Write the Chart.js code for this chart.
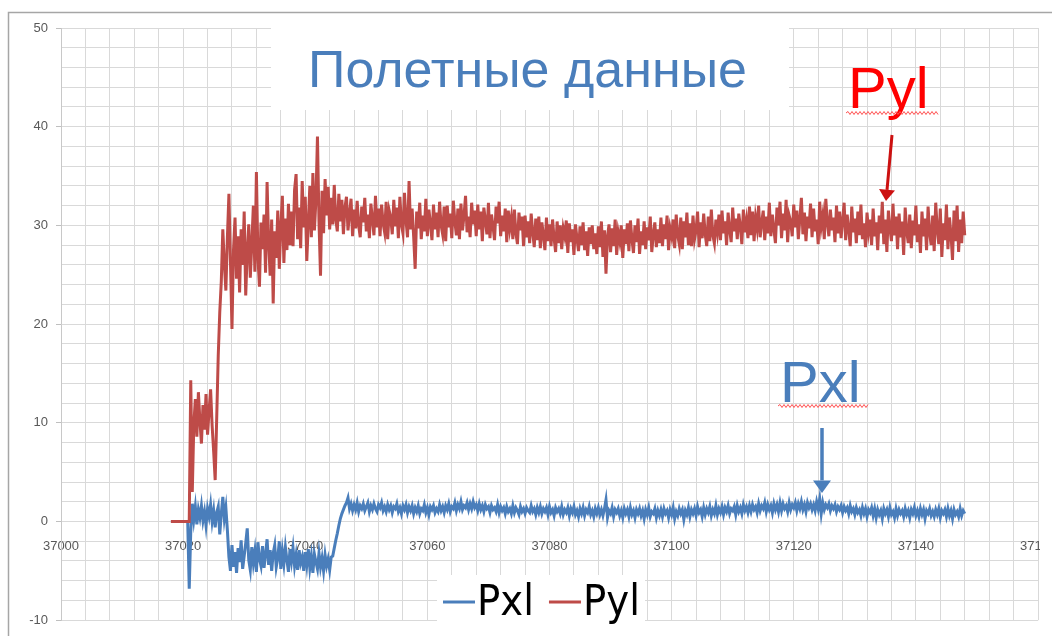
<!DOCTYPE html>
<html>
<head>
<meta charset="utf-8">
<script src="https://cdn.jsdelivr.net/npm/chart.js@4.4.0/dist/chart.umd.min.js"></script>
<style>
  html, body { margin: 0; padding: 0; background: #ffffff; }
</style>
</head>
<body>
<canvas id="grafico" width="1052" height="636"></canvas>
<script>
// ДАННЫЕ: отсчёты через каждые 0.25 ед. времени, начиная с 37018 (20 отсчётов в строке = 5 ед.)
const startTime = 37018;
const timeStep = 0.25;

const seriesNames = ['Pxl', 'Pyl'];
const seriesColors = ['#4a7ebb', '#be4b48'];

const xTicks = [37000, 37020, 37040, 37060, 37080, 37100, 37120, 37140, 37160];
const yTicks = [-10, 0, 10, 20, 30, 40, 50];

const pxlValues = [
  0, 0, 0, 0, 0, 0, 0, 0, 0, 0, 0, 0, -6.8, -1.0, 1.8, 0.2, 1.5, -0.3, 1.2, 0.4,
  1.6, 0.1, 1.0, -0.4, 1.3, 0.5, 1.7, 0.0, 1.1, -0.6, 0.9, 1.5, -1.3, 0.8, 2.5, 0.3, 1.4, -0.9, -3.6, -5.0,
  -2.4, -4.6, -3.1, -5.2, -2.7, -4.1, -1.9, -4.8, -3.5, -2.2, -0.7, -3.9, -4.9, -2.6, -4.2, -3.0, -5.1, -2.1, -3.8, -4.5,
  -2.5, -4.7, -3.3, -1.8, -4.4, -2.9, -5.0, -3.2, -2.4, -4.6, -3.7, -2.0, -4.8, -3.0, -4.3, -2.6, -3.9, -5.1, -2.8, -4.0,
  -2.7, -4.5, -3.4, -4.9, -2.9, -4.2, -3.6, -5.0, -3.1, -4.4, -2.8, -4.7, -3.5, -5.2, -3.3, -4.1, -4.8, -3.2, -4.6, -3.7,
  -5.0, -3.4, -4.5, -3.8, -4.9, -3.6, -3.5, -2.7, -1.9, -1.2, -0.4, 0.3, 0.8, 1.2, 1.6, 1.9, 2.4, 1.3, 1.8, 1.1,
  1.7, 1.2, 1.9, 1.0, 1.6, 1.3, 1.8, 1.1, 1.5, 1.9, 1.0, 1.6, 1.2, 1.8, 1.3, 1.0, 1.7, 1.4, 1.9, 1.1,
  1.5, 1.0, 1.7, 1.2, 1.6, 0.9, 1.5, 1.3, 1.8, 1.0, 1.4, 0.8, 1.6, 1.2, 1.7, 0.9, 1.5, 1.1, 1.6, 0.8,
  1.4, 1.0, 1.6, 0.8, 1.3, 1.1, 1.7, 0.9, 1.4, 0.7, 1.5, 1.2, 1.6, 0.9, 1.3, 1.0, 1.7, 1.1, 1.5, 0.9,
  1.6, 1.2, 1.8, 1.0, 1.5, 1.3, 1.9, 1.1, 1.7, 1.3, 2.0, 1.2, 1.6, 1.4, 1.9, 1.2, 1.8, 1.3, 2.0, 1.4,
  1.7, 1.1, 1.8, 1.2, 1.6, 1.0, 1.7, 1.3, 1.5, 0.9, 1.6, 1.2, 1.4, 1.0, 1.7, 0.9, 1.5, 1.1, 1.4, 0.8,
  1.5, 1.0, 1.3, 0.8, 1.6, 0.9, 1.4, 1.1, 0.7, 1.5, 1.0, 1.3, 0.8, 1.4, 1.1, 0.9, 1.6, 1.0, 1.3, 0.7,
  1.4, 0.9, 1.5, 0.8, 1.3, 1.0, 1.4, 0.7, 1.5, 0.9, 1.2, 0.6, 1.4, 1.0, 1.3, 0.8, 1.5, 0.7, 1.2, 0.9,
  1.4, 0.6, 1.3, 0.9, 1.5, 0.7, 1.1, 0.5, 1.3, 0.8, 1.4, 0.6, 1.2, 0.9, 1.5, 0.7, 1.1, 0.5, 1.3, 0.8,
  1.4, 0.7, 1.2, 0.6, 1.3, 2.2, 0.4, 1.1, 0.8, 1.4, 0.5, 1.2, 0.9, 1.3, 0.6, 1.1, 0.4, 1.3, 0.8, 1.2,
  0.5, 1.4, 0.7, 1.1, 0.4, 1.2, 0.8, 1.3, 0.6, 1.1, 0.3, 1.2, 0.7, 1.4, 0.5, 1.0, 0.8, 1.3, 0.4, 1.1,
  0.6, 1.2, 0.5, 1.3, 0.8, 1.1, 0.4, 1.2, 0.7, 1.4, 0.3, 1.0, 0.6, 1.3, 0.8, 1.2, 0.2, 1.1, 0.7, 1.4,
  0.5, 1.2, 0.8, 1.3, 0.6, 1.5, 0.9, 1.2, 0.5, 1.4, 0.7, 1.3, 0.9, 1.5, 0.6, 1.2, 0.8, 1.6, 0.7, 1.3,
  0.9, 1.5, 0.7, 1.4, 1.0, 1.6, 0.8, 1.3, 1.1, 1.5, 0.7, 1.6, 1.0, 1.4, 0.8, 1.7, 1.1, 1.5, 0.9, 1.6,
  1.0, 1.7, 1.2, 1.5, 0.9, 1.8, 1.1, 1.6, 1.3, 1.9, 1.0, 1.7, 1.2, 1.6, 0.9, 1.8, 1.2, 1.7, 1.0, 1.9,
  1.1, 1.8, 1.3, 1.6, 1.0, 1.9, 1.2, 1.7, 1.4, 1.9, 1.1, 1.8, 1.3, 2.0, 1.2, 1.7, 1.0, 1.9, 1.4, 1.8,
  1.2, 1.7, 1.1, 2.0, 1.3, 2.3, 0.8, 1.9, 1.2, 1.7, 1.4, 1.8, 1.1, 1.6, 1.3, 1.7, 1.0, 1.5, 1.2, 1.6,
  0.9, 1.5, 1.1, 1.4, 0.8, 1.6, 1.0, 1.3, 0.7, 1.4, 0.9, 1.2, 0.6, 1.4, 0.8, 1.3, 0.5, 1.2, 0.9, 1.4,
  0.6, 1.3, 0.4, 1.2, 0.7, 1.1, 0.3, 1.3, 0.8, 1.2, 0.5, 1.4, 0.7, 1.0, 0.4, 1.3, 0.6, 1.2, 0.8, 1.1,
  0.5, 1.3, 0.7, 1.1, 0.4, 1.2, 0.8, 1.4, 0.6, 1.1, 0.5, 1.3, 0.7, 1.2, 0.3, 1.1, 0.8, 1.3, 0.6, 1.0,
  0.5, 1.2, 0.7, 1.3, 0.4, 1.1, 0.8, 1.2, 0.5, 1.3, 0.6, 1.1, 0.3, 1.2, 0.7, 1.0, 0.5, 1.3, 0.6, 1.1,
  0.8
];

const pylValues = [
  0, 0, 0, 0, 0, 0, 0, 0, 0, 0, 0, 0, 0, 14.3, 3.0, 9.8, 12.4, 8.6, 13.1, 10.2,
  7.9, 11.8, 9.3, 12.9, 8.8, 11.2, 13.4, 9.7, 7.1, 4.2, 10.5, 16.8, 21.2, 24.3, 29.6, 26.1, 23.4, 28.8, 33.2, 26.4,
  19.5, 27.5, 30.8, 24.6, 28.9, 23.2, 29.6, 26.0, 31.4, 22.9, 27.3, 30.1, 24.7, 28.2, 32.0, 25.3, 35.4, 26.8, 23.8, 30.3,
  27.6, 31.1, 25.2, 34.4, 28.3, 24.9, 30.6, 22.1, 29.4, 26.7, 31.5, 25.6, 29.9, 33.0, 26.2, 30.7, 27.5, 32.2, 28.0, 31.4,
  27.9, 33.6, 35.2, 28.6, 31.8, 27.7, 34.5, 29.8, 32.9, 26.4, 30.2, 34.0, 28.8, 35.3, 29.5, 32.6, 39.0, 30.4, 24.9, 33.5,
  29.2, 34.7, 31.0, 33.9, 29.6, 32.8, 30.1, 34.1, 30.6, 29.4, 33.2, 30.4, 32.6, 29.1, 31.8, 32.9, 29.5, 31.2, 32.7, 28.9,
  31.6, 29.7, 32.5, 30.0, 28.8, 31.9, 30.3, 32.8, 29.4, 31.1, 28.7, 32.2, 30.6, 29.0, 33.0, 29.8, 31.7, 28.9, 32.1, 30.2,
  29.3, 32.4, 28.6, 31.5, 30.8, 29.1, 32.6, 29.9, 31.8, 28.7, 32.9, 30.1, 29.2, 33.3, 30.5, 28.8, 34.5, 29.6, 31.7, 28.9,
  25.6, 31.4, 29.7, 32.3, 28.6, 31.0, 29.4, 32.7, 28.9, 31.6, 30.2, 28.5, 32.1, 29.6, 31.3, 28.8, 32.4, 30.0, 29.1, 31.9,
  28.4, 32.0, 29.8, 31.2, 28.7, 32.5, 30.4, 29.0, 31.7, 28.6, 32.2, 29.5, 31.0, 33.0, 29.3, 30.9, 28.8, 32.3, 30.1, 31.5,
  28.9, 32.1, 29.6, 31.4, 28.4, 31.8, 30.5, 29.1, 32.3, 28.7, 31.1, 29.9, 28.5, 31.9, 30.2, 32.4, 28.9, 31.0, 29.4, 31.7,
  28.3, 31.5, 29.7, 30.8, 28.6, 31.6, 29.2, 28.1, 31.3, 29.5, 30.9, 27.9, 31.0, 28.8, 30.4, 28.2, 31.2, 29.3, 27.8, 30.7,
  28.5, 30.9, 27.7, 30.3, 29.0, 27.5, 30.8, 28.4, 30.1, 27.9, 30.6, 28.7, 27.3, 30.4, 28.2, 30.0, 27.6, 29.7, 28.9, 30.5,
  27.2, 30.2, 28.3, 29.6, 27.0, 30.1, 28.7, 27.4, 29.9, 28.0, 30.3, 27.5, 29.4, 26.9, 29.8, 28.1, 30.0, 27.6, 29.2, 27.1,
  29.9, 27.8, 30.4, 26.8, 29.5, 25.1, 28.9, 30.1, 27.3, 29.7, 27.9, 30.6, 27.0, 29.3, 28.4, 30.0, 26.7, 29.6, 28.1, 30.2,
  27.4, 30.5, 28.6, 27.2, 30.0, 28.3, 30.7, 27.1, 29.4, 28.0, 30.4, 27.6, 29.8, 28.5, 30.9, 27.3, 29.1, 30.3, 27.8, 29.6,
  28.2, 30.8, 27.9, 30.1, 28.6, 31.0, 27.5, 29.7, 28.9, 30.6, 27.7, 31.1, 29.0, 28.1, 30.8, 27.6, 30.4, 28.8, 31.3, 28.0,
  30.2, 27.9, 31.0, 28.6, 29.5, 31.4, 27.8, 30.3, 28.7, 31.2, 29.1, 27.9, 30.9, 28.4, 31.6, 29.0, 28.2, 30.6, 29.3, 31.1,
  28.5, 31.5, 29.2, 30.4, 28.0, 31.3, 29.6, 28.3, 31.8, 29.4, 30.7, 28.6, 31.2, 29.9, 28.1, 31.6, 29.3, 30.5, 28.7, 31.9,
  29.0, 31.4, 28.4, 30.8, 29.7, 32.0, 28.8, 30.3, 31.5, 28.5, 30.9, 29.2, 32.3, 28.9, 31.1, 29.6, 28.2, 31.8, 30.0, 32.4,
  28.7, 31.2, 29.5, 32.6, 28.3, 31.0, 30.4, 28.9, 32.1, 29.8, 31.5, 28.6, 30.7, 32.8, 29.1, 31.3, 28.4, 30.9, 29.7, 32.2,
  28.8, 31.7, 29.4, 30.6, 28.1, 32.4, 29.9, 31.0, 28.6, 32.7, 30.3, 28.9, 31.6, 29.5, 30.8, 28.3, 32.0, 29.2, 31.4, 28.7,
  30.5, 32.3, 28.5, 31.1, 29.6, 27.9, 31.9, 29.3, 30.7, 28.2, 31.4, 29.0, 32.1, 28.6, 30.2, 27.8, 31.3, 29.4, 30.6, 28.0,
  31.7, 28.9, 30.3, 27.5, 31.0, 29.2, 32.4, 28.1, 30.6, 27.3, 31.5, 29.7, 28.4, 32.2, 29.0, 30.9, 27.6, 31.2, 28.8, 30.4,
  27.0, 31.8, 29.4, 28.2, 31.1, 27.7, 30.5, 29.0, 32.0, 28.3, 30.1, 27.2, 31.4, 28.9, 30.7, 27.5, 31.9, 29.3, 28.0, 31.0,
  27.4, 32.3, 29.6, 28.1, 31.7, 26.8, 30.2, 28.5, 32.1, 27.6, 30.8, 29.1, 26.5, 31.5, 28.4, 32.0, 27.3, 30.6, 28.2, 31.4,
  29.0
];

function toPoints(values) {
  return values.map((v, i) => ({ x: startTime + i * timeStep, y: v }));
}

const FONTE_EIXO = { family: '"Liberation Sans", Arial, sans-serif', size: 13 };
const COR_GRADE = '#d9d9d9';

const dados = {
  datasets: [
    {
      label: seriesNames[0],
      data: toPoints(pxlValues),
      borderColor: seriesColors[0],
      backgroundColor: seriesColors[0],
      borderWidth: 3,
      pointRadius: 0,
      tension: 0,
      order: 1
    },
    {
      label: seriesNames[1],
      data: toPoints(pylValues),
      borderColor: seriesColors[1],
      backgroundColor: seriesColors[1],
      borderWidth: 3,
      pointRadius: 0,
      tension: 0,
      order: 0
    }
  ]
};

// wavy spell-check style underline
function wavy(ctx, x0, x1, y) {
  ctx.save();
  ctx.strokeStyle = '#ff5050';
  ctx.lineWidth = 1;
  ctx.beginPath();
  ctx.moveTo(x0, y);
  let up = true;
  for (let x = x0; x < x1; x += 2) {
    ctx.lineTo(x + 2, y + (up ? -1.5 : 1.5));
    up = !up;
  }
  ctx.stroke();
  ctx.restore();
}

function seta(ctx, x0, y0, x1, y1, cor, w, head) {
  const ang = Math.atan2(y1 - y0, x1 - x0);
  const bx = x1 - Math.cos(ang) * head * 1.4;
  const by = y1 - Math.sin(ang) * head * 1.4;
  ctx.save();
  ctx.strokeStyle = cor;
  ctx.fillStyle = cor;
  ctx.lineWidth = w;
  ctx.beginPath();
  ctx.moveTo(x0, y0);
  ctx.lineTo(bx, by);
  ctx.stroke();
  ctx.beginPath();
  ctx.moveTo(x1, y1);
  ctx.lineTo(bx + Math.sin(ang) * head, by - Math.cos(ang) * head);
  ctx.lineTo(bx - Math.sin(ang) * head, by + Math.cos(ang) * head);
  ctx.closePath();
  ctx.fill();
  ctx.restore();
}

const decoracao = {
  id: 'decoracao',
  afterDraw(chart) {
    const ctx = chart.ctx;
    ctx.save();

    // title box
    ctx.fillStyle = '#ffffff';
    ctx.fillRect(271, 14, 518, 96);
    ctx.fillStyle = '#4a7ebb';
    ctx.font = '52px "Liberation Sans", Arial, sans-serif';
    ctx.textAlign = 'left';
    ctx.textBaseline = 'alphabetic';
    ctx.fillText('Полетные данные', 308, 87);

    // legend box
    ctx.fillStyle = '#ffffff';
    ctx.fillRect(437, 575, 208, 52);
    ctx.font = '43px "Liberation Sans Narrow", "DejaVu Sans Condensed", sans-serif';
    let lx = 443;
    chart.data.datasets.forEach((ds) => {
      ctx.strokeStyle = ds.borderColor;
      ctx.lineWidth = 3;
      ctx.beginPath();
      ctx.moveTo(lx, 602);
      ctx.lineTo(lx + 32, 602);
      ctx.stroke();
      ctx.fillStyle = '#000000';
      ctx.fillText(ds.label, lx + 34, 615);
      lx += 34 + ctx.measureText(ds.label).width + 15;
    });

    // annotation Pyl
    ctx.fillStyle = '#ff0000';
    ctx.font = '58px "Liberation Sans", Arial, sans-serif';
    ctx.fillText('Pyl', 848, 108);
    wavy(ctx, 846, 937, 113);
    seta(ctx, 892, 135, 886, 201, '#cc1010', 3, 8);

    // annotation Pxl
    ctx.fillStyle = '#4a7ebb';
    ctx.fillText('Pxl', 780, 402);
    wavy(ctx, 778, 868, 406);
    seta(ctx, 822, 428, 822, 493, '#4a7ebb', 3.5, 9);

    // right edge of the screenshot
    ctx.fillStyle = '#ffffff';
    ctx.fillRect(1040, 14, 12, 622);

    // outer border
    ctx.strokeStyle = '#a6a6a6';
    ctx.lineWidth = 1.5;
    ctx.beginPath();
    ctx.moveTo(8.5, 636);
    ctx.lineTo(8.5, 12.5);
    ctx.lineTo(1052, 12.5);
    ctx.stroke();

    ctx.restore();
  }
};

const config = {
  type: 'line',
  data: dados,
  options: {
    responsive: false,
    animation: false,
    layout: { padding: { left: 0, top: 28, right: 14, bottom: 9 } },
    scales: {
      x: {
        type: 'linear',
        position: { y: 0 },
        min: xTicks[0],
        max: xTicks[xTicks.length - 1],
        afterFit(scale) { scale.paddingLeft = 0; scale.paddingRight = 0; },
        ticks: {
          stepSize: 4,
          autoSkip: false,
          maxRotation: 0,
          padding: 17,
          color: '#595959',
          font: FONTE_EIXO,
          callback: (v) => xTicks.includes(v) ? String(v) : ''
        },
        grid: { color: COR_GRADE, lineWidth: 1, drawTicks: false },
        border: { color: COR_GRADE }
      },
      y: {
        min: yTicks[0],
        max: yTicks[yTicks.length - 1],
        afterFit(scale) { scale.width = 61; },
        ticks: {
          stepSize: 2,
          autoSkip: false,
          padding: 8,
          color: '#595959',
          font: FONTE_EIXO,
          callback: (v) => yTicks.includes(v) ? String(v) : ''
        },
        grid: {
          color: COR_GRADE,
          lineWidth: 1,
          tickLength: 5,
          tickColor: (c) => (c.tick && yTicks.includes(c.tick.value)) ? '#bfbfbf' : 'rgba(0,0,0,0)'
        },
        border: { color: '#c8c8c8' }
      }
    },
    plugins: {
      legend: { display: false },
      tooltip: { enabled: false },
      title: { display: false }
    }
  },
  plugins: [decoracao]
};

const grafico = new Chart(document.getElementById('grafico'), config);
</script>
</body>
</html>
